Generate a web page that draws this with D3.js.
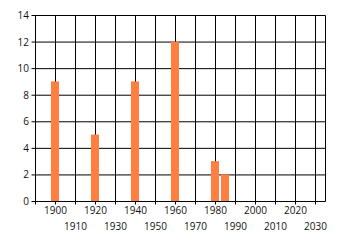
<!DOCTYPE html>
<html><head><meta charset="utf-8">
<script src="https://cdn.jsdelivr.net/npm/d3@7"></script>
<style>body{margin:0;background:#fff}svg{display:block}</style>
</head><body>
<script>
const years = [1900, 1920, 1940, 1960, 1980, 1985];
const values = [9, 5, 9, 12, 3, 2];
const xTicks = [1890,1900,1910,1920,1930,1940,1950,1960,1970,1980,1990,2000,2010,2020,2030];
const xLabels = [1900,1910,1920,1930,1940,1950,1960,1970,1980,1990,2000,2010,2020,2030];
const yTicks = [0,2,4,6,8,10,12,14];

const W = 340, H = 245;
const svg = d3.select("body").append("svg").attr("width", W).attr("height", H);
const x = d3.scaleLinear().domain([1890, 2035]).range([35.5, 325.5]);
const y = d3.scaleLinear().domain([0, 14]).range([201.5, 15.5]);
const font = "'Open Sans', sans-serif";

// grid
const g = svg.append("g");
g.selectAll("line.v").data(xTicks).enter().append("line")
  .attr("x1", d => x(d)).attr("x2", d => x(d))
  .attr("y1", y(14)).attr("y2", y(0) + 3)
  .attr("stroke", "#000").attr("stroke-width", 1);
g.selectAll("line.h").data(yTicks).enter().append("line")
  .attr("x1", x(1890) - 4).attr("x2", x(2035))
  .attr("y1", d => y(d)).attr("y2", d => y(d))
  .attr("stroke", "#000").attr("stroke-width", 1);
g.append("line").attr("x1", x(2035)).attr("x2", x(2035))
  .attr("y1", y(14)).attr("y2", y(0)).attr("stroke", "#000");

// bars
svg.selectAll("rect.bar").data(years).enter().append("rect")
  .attr("x", d => x(d) - 4.5).attr("width", 8)
  .attr("y", (d, i) => y(values[i]) - 0.5)
  .attr("height", (d, i) => y(0) - y(values[i]))
  .attr("fill", "#ff7f40");

// y labels
svg.selectAll("text.y").data(yTicks).enter().append("text")
  .attr("x", 29).attr("y", d => y(d) + 3.5)
  .attr("text-anchor", "end").attr("font-family", font).attr("font-size", 10)
  .attr("fill", "#111").text(d => d);

// x labels staggered
svg.selectAll("text.x").data(xLabels).enter().append("text")
  .attr("x", d => x(d)).attr("y", d => (d % 20 === 0) ? 214 : 230)
  .attr("text-anchor", "middle").attr("font-family", font).attr("font-size", 10)
  .attr("fill", "#111").text(d => d);
</script>
</body></html>
